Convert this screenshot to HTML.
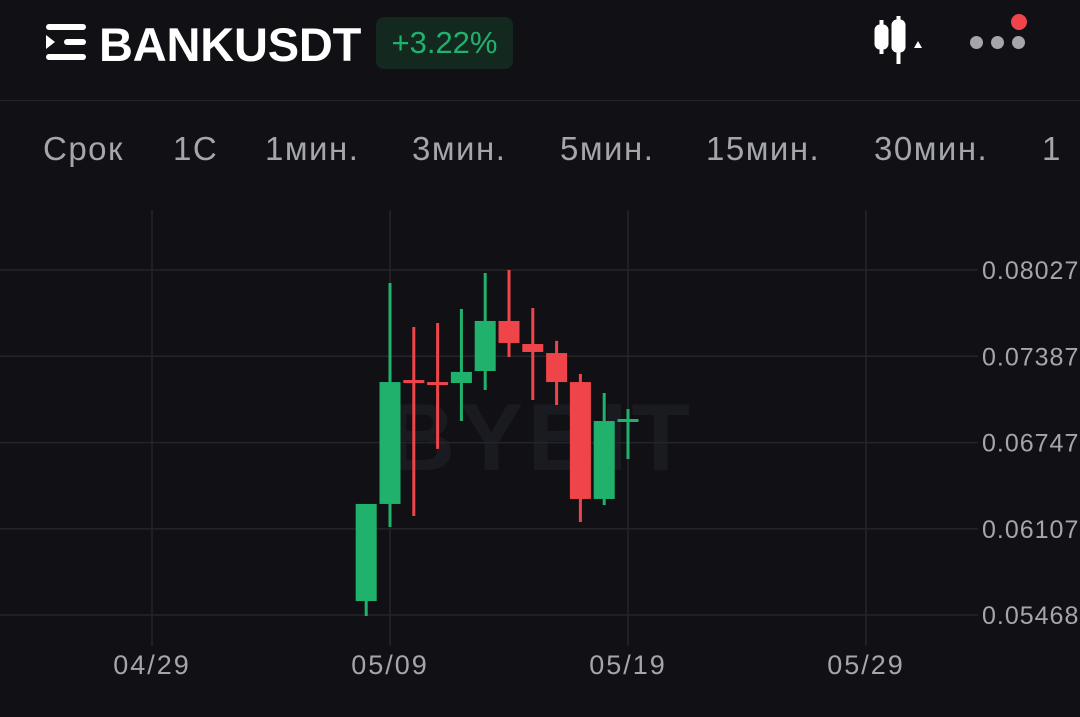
<!DOCTYPE html>
<html><head><meta charset="utf-8"><style>
body{margin:0;width:1080px;height:717px;background:#111115;overflow:hidden;font-family:"Liberation Sans",sans-serif;position:relative}
.a{position:absolute;white-space:nowrap}
.tab{position:absolute;top:130px;font-size:33px;color:#a4a6ab;letter-spacing:1.5px}
</style></head><body>
<div class="a" style="left:46px;top:24px;width:40px;height:38px">
<div style="position:absolute;left:0;top:0;width:40px;height:6px;background:#fff;border-radius:3px"></div>
<div style="position:absolute;left:18px;top:15px;width:22px;height:6px;background:#fff;border-radius:3px"></div>
<div style="position:absolute;left:0;top:11px;width:0;height:0;border-left:9px solid #fff;border-top:7px solid transparent;border-bottom:7px solid transparent"></div>
<div style="position:absolute;left:0;top:30px;width:40px;height:6px;background:#fff;border-radius:3px"></div>
</div>
<div class="a" style="left:99px;top:17px;font-size:47px;font-weight:bold;color:#fff;letter-spacing:-0.2px">BANKUSDT</div>
<div class="a" style="left:376px;top:17px;width:137px;height:52px;background:#13281f;border-radius:8px;color:#20b26c;font-size:31px;line-height:52px;text-align:center">+3.22%</div>
<svg class="a" style="left:872px;top:14px" width="56" height="52">
<rect x="5" y="13" width="9" height="20" rx="3" fill="none" stroke="#fff" stroke-width="5"/><line x1="9.5" y1="6" x2="9.5" y2="40" stroke="#fff" stroke-width="4"/>
<rect x="22" y="8" width="9" height="28" rx="3" fill="none" stroke="#fff" stroke-width="5"/><line x1="26.5" y1="2" x2="26.5" y2="50" stroke="#fff" stroke-width="4"/>
<polygon points="42,34 46,27 50,34" fill="#fff"/></svg>
<div class="a" style="left:970px;top:36px">
<span style="position:absolute;left:0;top:0;width:13px;height:13px;border-radius:50%;background:#a4a6ab"></span>
<span style="position:absolute;left:21px;top:0;width:13px;height:13px;border-radius:50%;background:#a4a6ab"></span>
<span style="position:absolute;left:42px;top:0;width:13px;height:13px;border-radius:50%;background:#a4a6ab"></span>
<span style="position:absolute;left:41px;top:-22px;width:16px;height:16px;border-radius:50%;background:#ef454a"></span></div>
<div class="a" style="left:0;top:100px;width:1080px;height:1px;background:#26272c"></div>
<div class="tab" style="left:43px">Срок</div>
<div class="tab" style="left:173px">1С</div>
<div class="tab" style="left:265px">1мин.</div>
<div class="tab" style="left:412px">3мин.</div>
<div class="tab" style="left:560px">5мин.</div>
<div class="tab" style="left:706px">15мин.</div>
<div class="tab" style="left:874px">30мин.</div>
<div class="tab" style="left:1042px">1</div>
<svg id="c" class="a" style="left:0;top:0" width="1080" height="717"></svg>
<script>
const dates=["05/08","05/09","05/10","05/11","05/12","05/13","05/14","05/15","05/16","05/17","05/18","05/19"];
const opens=[0.05572,0.06292,0.07211,0.07196,0.07189,0.07278,0.07649,0.07478,0.07411,0.07196,0.06329,0.06922];
const highs=[0.06292,0.07931,0.07604,0.07634,0.07738,0.08005,0.08027,0.07745,0.07501,0.07256,0.07115,0.06996];
const lows=[0.05461,0.06121,0.06203,0.06700,0.06907,0.07137,0.07382,0.07063,0.07026,0.06158,0.06284,0.06625];
const closes=[0.06292,0.07196,0.07204,0.07189,0.07271,0.07649,0.07486,0.07419,0.07196,0.06329,0.06907,0.06922];
const yTicks=[0.08027,0.07387,0.06747,0.06107,0.05468];
const xTicks=["04/29","05/09","05/19","05/29"];
const xTickDay=[-10,0,10,20];
const dayIndex=[-1,0,1,2,3,4,5,6,7,8,9,10];
const NS="http://www.w3.org/2000/svg",svg=document.getElementById('c');
const y=p=>270+(0.08027-p)*13484;
const x=d=>390+d*23.8;
function mk(t,a){const e=document.createElementNS(NS,t);for(const k in a)e.setAttribute(k,a[k]);svg.appendChild(e);return e;}
const wm=mk('text',{x:540,y:470,'font-size':96,'font-weight':'bold','text-anchor':'middle',fill:'#1a1b20','font-family':'Liberation Sans, sans-serif','letter-spacing':'4'});


wm.textContent='BYBIT';
yTicks.forEach(v=>{const l=mk('line',{x1:0,x2:978,y1:y(v),y2:y(v),stroke:'#24252a','stroke-width':1.5});


const t=mk('text',{x:982,y:y(v)+9,'font-size':25,fill:'#a4a6ab','font-family':'Liberation Sans, sans-serif','letter-spacing':'1'});


t.textContent=v.toFixed(5);});
xTicks.forEach((s,i)=>{const xx=x(xTickDay[i]);const l=mk('line',{x1:xx,x2:xx,y1:210,y2:646,stroke:'#24252a','stroke-width':1.5});


const t=mk('text',{x:xx,y:674,'font-size':27,fill:'#a4a6ab','text-anchor':'middle','font-family':'Liberation Sans, sans-serif','letter-spacing':'2'});


t.textContent=s;});
dates.forEach((d,i)=>{const cx=x(dayIndex[i]);const up=closes[i]>=opens[i];const col=up?'#20b26c':'#ef454a';
const g=mk('g',{});


const w=mk('line',{x1:cx,x2:cx,y1:y(highs[i]),y2:y(lows[i]),stroke:col,'stroke-width':3});g.appendChild(w);
const top=y(Math.max(opens[i],closes[i])),bot=y(Math.min(opens[i],closes[i]));
const r=mk('rect',{x:cx-10.5,y:top,width:21,height:Math.max(bot-top,3),fill:col});g.appendChild(r);});
</script>
</body></html>
